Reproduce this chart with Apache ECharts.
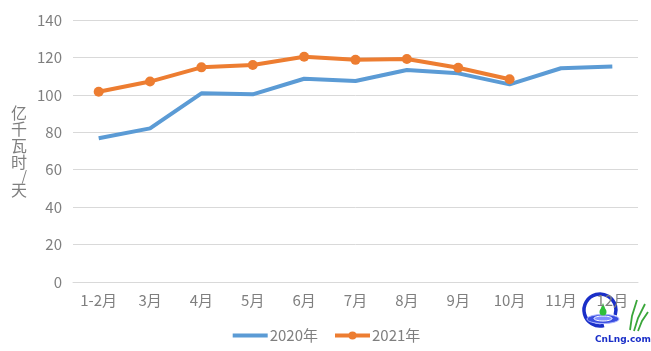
<!DOCTYPE html>
<html>
<head>
<meta charset="utf-8">
<script src="https://cdn.jsdelivr.net/npm/echarts@6/dist/echarts.min.js"></script>
<style>html,body{margin:0;padding:0;background:#fff}#c{width:651px;height:351px}</style>
</head>
<body>
<div id="c"></div>
<script>
var categories = ['1-2月','3月','4月','5月','6月','7月','8月','9月','10月','11月','12月'];
var series2020 = [76.8, 82.1, 100.8, 100.3, 108.6, 107.4, 113.3, 111.5, 105.6, 114.2, 115.1];
var series2021 = [101.7, 107.1, 114.7, 116.0, 120.4, 118.7, 119.2, 114.5, 108.3];
var yTicks = [0, 20, 40, 60, 80, 100, 120, 140];
var yName = '亿千瓦时/天';

var chart = echarts.init(document.getElementById('c'), null, {renderer: 'canvas'});
var font = '"Noto Sans CJK SC", "Noto Sans", sans-serif';
var yNameRich = yName.split('').map(function (ch) {
  return ch === '/' ? '{s|' + ch + '}' : '{c|' + ch + '}';
}).join('\n');
chart.setOption({
  animation: false,
  backgroundColor: '#fff',
  grid: {left: 73, right: 13, top: 20, bottom: 69},
  legend: {
    data: [
      {name: '2020年', itemStyle: {opacity: 0}, lineStyle: {width: 4}},
      {name: '2021年', lineStyle: {width: 4}}
    ],
    bottom: 3,
    left: 'center',
    itemWidth: 35,
    itemHeight: 10,
    itemGap: 15,
    textStyle: {color: '#7f7f7f', fontSize: 15, fontFamily: font, padding: [0, 0, 0, -3]}
  },
  xAxis: {
    type: 'category',
    data: categories,
    boundaryGap: true,
    axisLine: {lineStyle: {color: '#d9d9d9', width: 1}},
    axisTick: {show: false},
    axisLabel: {color: '#7f7f7f', fontSize: 15, fontFamily: font, margin: 11, interval: 0}
  },
  yAxis: {
    type: 'value',
    min: yTicks[0],
    max: yTicks[yTicks.length - 1],
    interval: yTicks[1] - yTicks[0],
    name: yNameRich,
    nameLocation: 'middle',
    nameRotate: 0,
    nameGap: 46,
    nameTextStyle: {
      color: '#7f7f7f', fontSize: 16, fontFamily: font, lineHeight: 16,
      rich: {
        c: {color: '#7f7f7f', fontSize: 16, fontFamily: font, lineHeight: 16.5},
        s: {color: '#7f7f7f', fontSize: 14, fontFamily: font, lineHeight: 11}
      }
    },
    axisLine: {show: false},
    axisTick: {show: false},
    splitLine: {lineStyle: {color: '#d9d9d9', width: 1}},
    axisLabel: {color: '#7f7f7f', fontSize: 15, fontFamily: font, margin: 11}
  },
  series: [
    {
      name: '2020年', type: 'line', data: series2020,
      symbol: 'none', showSymbol: false,
      lineStyle: {color: '#5b9bd5', width: 4},
      itemStyle: {color: '#5b9bd5'}
    },
    {
      name: '2021年', type: 'line', data: series2021,
      symbol: 'circle', symbolSize: 10, showSymbol: true,
      lineStyle: {color: '#ed7d31', width: 4},
      itemStyle: {color: '#ed7d31'}
    }
  ],
  graphic: [
    {type: 'arc', shape: {cx: 600, cy: 310, r: 16, startAngle: Math.PI * 0.42, endAngle: Math.PI * 2.1}, style: {stroke: '#1a2fc8', lineWidth: 3.5, fill: null}},
    {type: 'ellipse', shape: {cx: 603, cy: 319, rx: 16, ry: 4.5}, style: {fill: '#3a4ee0', stroke: '#aab4ff', lineWidth: 1}},
    {type: 'ellipse', shape: {cx: 603, cy: 318.5, rx: 9, ry: 2.5}, style: {fill: '#8090ff', stroke: '#fff', lineWidth: 1}},
    {type: 'circle', shape: {cx: 603, cy: 312, r: 3.5}, style: {fill: '#2fbf3a'}},
    {type: 'polygon', shape: {points: [[599.8, 311], [603, 303], [606.2, 311]]}, style: {fill: '#2fbf3a'}},
    {type: 'polyline', shape: {points: [[630, 330], [632, 316], [637, 300]]}, style: {stroke: '#3aa63a', lineWidth: 1.8, fill: null}},
    {type: 'polyline', shape: {points: [[634, 331], [638, 318], [645, 304]]}, style: {stroke: '#3aa63a', lineWidth: 1.8, fill: null}},
    {type: 'polyline', shape: {points: [[638, 331], [642, 321], [648, 312]]}, style: {stroke: '#3aa63a', lineWidth: 1.8, fill: null}},
    {type: 'text', left: 594, top: 334, style: {text: 'CnLng.com', fill: '#1a2fc8', stroke: '#fff', lineWidth: 2, font: 'bold 9px "DejaVu Sans", sans-serif'}}
  ]
});
</script>
</body>
</html>
